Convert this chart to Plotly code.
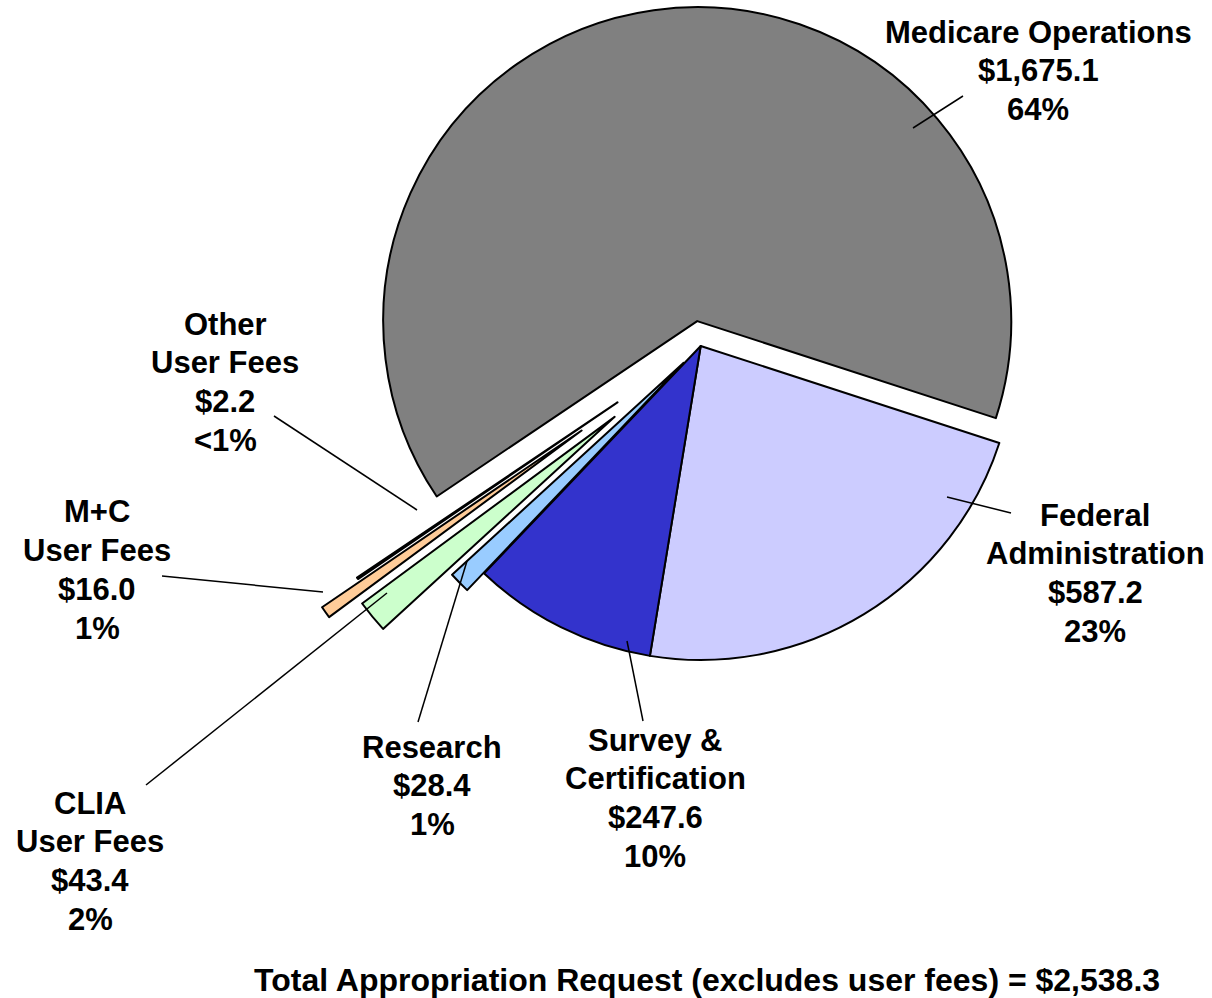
"""Exploded pie of the appropriation request, Excel style, with leader-line labels."""
import math
import plotly.graph_objects as go

# Slices in clockwise order, starting at the right-hand edge of Federal Administration.
names = [["Federal", "Administration"], ["Survey &", "Certification"], ["Research"],
         ["CLIA", "User Fees"], ["M+C", "User Fees"], ["Other", "User Fees"], ["Medicare Operations"]]
values = [587.2, 247.6, 28.4, 43.4, 16.0, 2.2, 1675.1]
colors = ["#CCCCFF", "#3333CC", "#99CCFF", "#CCFFCC", "#FFCC99", "#FFFFFF", "#808080"]
# how far each slice is exploded, as a fraction of the radius
pulls = [0, 0, 0.076, 0.355, 0.465, 0.32, 0.08]
appropriation = 2538.3

# Layout in pixels (figure is 1212 x 998).
W, H = 1212, 998
CX, CY, R = 700.7, 346, 314
ROTATION = 108
FONT = "Liberation Sans, Arial, sans-serif"
LINE_H = 38.7

# label centres (x, y of first line) and leader lines (label end, slice end)
label_pos = [(1095, 515), (655, 740), (432, 747), (90, 803), (97, 512), (225, 324), (1038, 32)]
leaders = [((1011, 513), (947, 497)), ((643, 721), (627, 641)), ((418, 722), (467, 561)),
           ((146, 785), (387, 593)), ((162, 576), (323, 592)), ((274, 416), (417, 510)),
           ((963, 96), (913, 128))]


def px(x):
    return x / W


def py(y):
    return 1 - y / H


total = sum(values)
fig = go.Figure()

# one trace per slice so every slice can be exploded on its own without shrinking the pie
cum = 0.0
for i, v in enumerate(values):
    mid = math.radians(ROTATION + (cum + v / 2) / total * 360)
    cum += v
    cx = CX + pulls[i] * R * math.sin(mid)
    cy = CY - pulls[i] * R * math.cos(mid)
    fig.add_trace(go.Pie(
        values=values,
        labels=[" ".join(n) for n in names],
        sort=False,
        direction="clockwise",
        rotation=ROTATION,
        marker=dict(colors=[c if j == i else "rgba(0,0,0,0)" for j, c in enumerate(colors)],
                    line=dict(color="black", width=[2 if j == i else 0 for j in range(len(values))])),
        textinfo="none",
        hoverinfo="label+value+percent",
        showlegend=False,
        domain=dict(x=[px(cx - R), px(cx + R)], y=[py(cy + R), py(cy - R)]),
    ))

# labels, one annotation per line to keep Excel's tighter line spacing
for i, v in enumerate(values):
    p = v / total * 100
    pct = "<1%" if p < 0.5 else f"{p:.0f}%"
    lines = names[i] + [f"${v:,.1f}", pct]
    lx, ly = label_pos[i]
    for k, line in enumerate(lines):
        fig.add_annotation(
            x=px(lx), y=py(ly + k * LINE_H), xref="paper", yref="paper",
            text=f"<b>{line}</b>",
            showarrow=False, xanchor="center", yanchor="middle",
            font=dict(family=FONT, size=31, color="black"),
        )
    (x0, y0), (x1, y1) = leaders[i]
    fig.add_shape(type="line", xref="paper", yref="paper",
                  x0=px(x0), y0=py(y0), x1=px(x1), y1=py(y1),
                  line=dict(color="black", width=1.5))

fig.add_annotation(
    x=px(707), y=py(980), xref="paper", yref="paper",
    text=f"<b>Total Appropriation Request (excludes user fees) = ${appropriation:,.1f}</b>",
    showarrow=False, xanchor="center", yanchor="middle",
    font=dict(family=FONT, size=32, color="black"),
)

fig.update_layout(
    width=W, height=H,
    margin=dict(l=0, r=0, t=0, b=0),
    paper_bgcolor="white", plot_bgcolor="white",
)

fig.write_html("out.html", config={"displayModeBar": False},
               post_script="document.body.style.margin = '0';")
